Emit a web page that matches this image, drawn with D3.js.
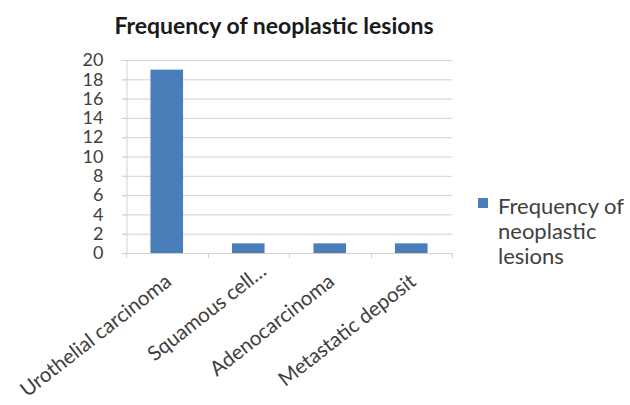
<!DOCTYPE html>
<html>
<head>
<meta charset="utf-8">
<script src="https://cdn.jsdelivr.net/npm/d3@7"></script>
<style>
  html, body { margin: 0; padding: 0; background: #fff; }
  svg { display: block; font-family: Lato, "Open Sans", sans-serif; }
</style>
</head>
<body>
<svg id="chart" width="630" height="405"></svg>
<script>
const categories = ["Urothelial carcinoma", "Squamous cell\u2026", "Adenocarcinoma", "Metastatic deposit"];
const values = [19, 1, 1, 1];
const yTicks = [0, 2, 4, 6, 8, 10, 12, 14, 16, 18, 20];
const seriesName = "Frequency of neoplastic lesions";
const legendLines = ["Frequency of", "neoplastic", "lesions"];
const chartTitle = "Frequency of neoplastic lesions";

const svg = d3.select("#chart");
const plot = { left: 126, right: 452, top: 60, bottom: 253 };
const barColor = "#4a7ebb";
const textColor = "#404040";
const gridColor = "#d0d0d0";
const labelAngle = -38;

const x = d3.scaleBand()
  .domain(categories)
  .range([plot.left, plot.right])
  .paddingInner(0.6)
  .paddingOuter(0.3);

const y = d3.scaleLinear().domain([0, 20]).range([plot.bottom, plot.top]);

// Title
svg.append("text")
  .attr("x", 274).attr("y", 34)
  .attr("text-anchor", "middle")
  .attr("font-size", 23).attr("font-weight", "bold")
  .attr("fill", "#1a1a1a")
  .text(chartTitle);

// Horizontal gridlines
svg.append("g").selectAll("line").data(yTicks).join("line")
  .attr("x1", plot.left - 4).attr("x2", plot.right)
  .attr("y1", d => y(d) + 0.5).attr("y2", d => y(d) + 0.5)
  .attr("stroke", gridColor).attr("stroke-width", 1);

// Y axis
const yAxis = svg.append("g")
  .attr("transform", `translate(${plot.left + 0.5},0)`)
  .call(d3.axisLeft(y).tickValues(yTicks).tickSize(4).tickPadding(19));
yAxis.select(".domain").attr("stroke", gridColor);
yAxis.selectAll(".tick line").attr("stroke", gridColor);
yAxis.selectAll(".tick text")
  .attr("font-size", 18).attr("fill", textColor)
  .attr("font-family", "Lato, 'Open Sans', sans-serif");

// Bars
svg.append("g").selectAll("rect").data(values).join("rect")
  .attr("x", (d, i) => x(categories[i]))
  .attr("y", d => y(d))
  .attr("width", x.bandwidth())
  .attr("height", d => y(0) - y(d))
  .attr("fill", barColor);

// X axis with category boundary ticks
const step = x.step();
const bounds = d3.range(categories.length + 1).map(i => plot.left + i * step);
svg.append("line")
  .attr("x1", plot.left).attr("x2", plot.right)
  .attr("y1", plot.bottom + 0.5).attr("y2", plot.bottom + 0.5)
  .attr("stroke", gridColor);
svg.append("g").selectAll("line").data(bounds).join("line")
  .attr("x1", d => Math.round(d) + 0.5).attr("x2", d => Math.round(d) + 0.5)
  .attr("y1", plot.bottom).attr("y2", plot.bottom + 5)
  .attr("stroke", gridColor);

// Rotated category labels; a truncated label sits a little further along its own direction
const ellipsisShift = 17;
const rad = labelAngle * Math.PI / 180;
svg.append("g").selectAll("text").data(categories).join("text")
  .attr("transform", d => {
    const s = d.endsWith("\u2026") ? ellipsisShift : 0;
    const cx = x(d) + x.bandwidth() / 2 + 6 + s * Math.cos(rad);
    const cy = plot.bottom + 31 + s * Math.sin(rad);
    return `translate(${cx},${cy}) rotate(${labelAngle})`;
  })
  .attr("text-anchor", "end")
  .attr("font-size", 20.5)
  .attr("fill", textColor)
  .text(d => d);

// Legend
const legend = svg.append("g").attr("aria-label", seriesName);
legend.append("rect")
  .attr("x", 478).attr("y", 198)
  .attr("width", 10).attr("height", 10)
  .attr("fill", barColor);
legend.selectAll("text").data(legendLines).join("text")
  .attr("x", 498)
  .attr("y", (d, i) => 214 + i * 25)
  .attr("font-size", 22)
  .attr("fill", textColor)
  .text(d => d);
</script>
</body>
</html>
